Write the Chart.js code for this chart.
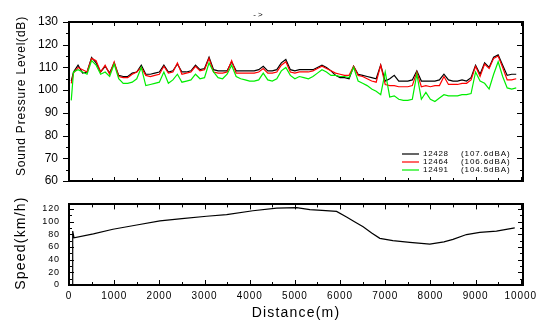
<!DOCTYPE html>
<html><head><meta charset="utf-8">
<script src="https://cdn.jsdelivr.net/npm/chart.js@4.4.1/dist/chart.umd.min.js"></script>
<style>
html,body{margin:0;padding:0;background:#fff;}
body{width:544px;height:323px;position:relative;overflow:hidden;font-family:"Liberation Sans",Arial,sans-serif;}
canvas{position:absolute;left:0;}
#c1{top:0;width:544px;height:190px;}
#c2{top:190px;width:544px;height:133px;}
.lbl{position:absolute;color:#000;white-space:nowrap;line-height:1;}
#title{left:258px;top:15px;font-size:8px;transform:translate(-50%,-50%);}
#ytop{left:21px;top:96px;font-size:12px;letter-spacing:0.8px;transform:translate(-50%,-50%) rotate(-90deg);}
#ybot{left:20px;top:243px;font-size:14px;letter-spacing:1.2px;transform:translate(-50%,-50%) rotate(-90deg);}
#xbot{left:296px;top:312px;font-size:14px;letter-spacing:1.2px;transform:translate(-50%,-50%);}
</style></head><body>
<canvas id="c1" width="544" height="190"></canvas>
<canvas id="c2" width="544" height="133"></canvas>
<div class="lbl" id="title">- &gt;</div>
<div class="lbl" id="ytop">Sound Pressure Level(dB)</div>
<div class="lbl" id="ybot">Speed(km/h)</div>
<div class="lbl" id="xbot">Distance(m)</div>
<script>
// ---------- data ----------
const seriesNames = ["12428", "12464", "12491"];
const seriesLevels = ["(107.6dBA)", "(106.6dBA)", "(104.5dBA)"];
const seriesColors = ["#000000", "#ff0000", "#00ee00"];

const noiseDist = [50,100,200,300,400,500,600,700,800,900,1000,1100,1200,1300,1400,1500,1600,1700,1800,1900,
2000,2100,2200,2300,2400,2500,2600,2700,2800,2900,3000,3100,3200,3300,3400,3500,3600,3700,3800,3900,
4000,4100,4200,4300,4400,4500,4600,4700,4800,4900,5000,5100,5200,5300,5400,5500,5600,5700,5800,5900,
6000,6100,6200,6300,6400,6500,6600,6700,6800,6900,7000,7100,7200,7300,7400,7500,7600,7700,7800,7900,
8000,8100,8200,8300,8400,8500,8600,8700,8800,8900,9000,9100,9200,9300,9400,9500,9600,9700,9800,9900];

const spl12428 = [104,108,111,107.5,108,114.4,112,108,110.5,107.5,112,106.5,106,106,107.5,108,111,107,107,107.5,
108,111,108,108.5,111.5,108,108,108.5,111,109,109.5,114.5,109,108.5,108.5,108.5,112.5,108.5,108.5,108.5,
108.5,108.5,109,110.5,108.5,108.5,109,112,113.5,109,108.5,109,109,109,109,110,111,110,108.5,106.5,
105.5,105.5,105,110.5,107,106.5,106,105.5,105,111,104,105,106.5,104,104,104,104.5,108.5,104,104,
104,104,104.5,107,104.5,104,104,104.5,104,105.5,111,107,112,110,114.5,115.5,111,106.5,107,107];

const spl12464 = [103,107.5,110,109,108,114,113,108,111,107,112.4,106,105.5,105.5,107,108,110,106.5,106,106.5,
107,110.5,107.5,108,112,107,107.5,108,110.5,108.5,109,114,108,107.5,107.5,108,113,107.5,107.5,107.5,
107.5,107.5,108,109.5,107.5,107.5,108,111,112.5,108,107.5,108,108,108,108.5,109.5,110.5,109.5,108.5,107.5,
107,106.5,106.5,110.5,106.5,106,105,104,103.5,111,102.5,102,102,101.5,101.5,101.5,102,108,101.5,102,
101.5,102,102,106,102.5,102.5,102.5,103,103,104.5,110.5,106,111.5,109.5,114,115,110,104.5,104.5,105];

const spl12491 = [95.5,108,109,108,107,113,111,107,108,106,111.5,105,103,103,103.5,105,110,102,102.5,103,
103.5,108,103,104.5,107,103.5,104,104.5,107,105,105.5,112,108,105.5,105,107,111,106,105,104.5,
104,104,104.5,107.5,104.5,104,105,108.5,110,106.5,105,106,105.5,105,106,107.5,109,108,106.5,106.5,
106,106,105.5,110,104,103,102,100.5,99.5,98,108,97,97.5,96,95.5,95.5,96,107,96,99,
96,95,96.5,98,97.5,97.5,97.5,98,98,98.5,108,104,103,100.5,107,112.5,106,101,100.5,101];

const speedDist = [80,82,110,540,973,1500,2013,2500,3046,3489,4071,4595,5038,5332,5600,5923,6144,6320,6511,6700,6881,7168,7544,7987,8300,8500,8799,9093,9462,9867];
const speedKmh  = [0,85,74.5,80.5,87.8,94.5,101,104.7,108.3,111,117,121,122,118.8,117.5,116,107,99.5,91.7,82,73.5,70,67.3,64.4,68,72,79.5,83,84.8,90];

const splTicks = [60,70,80,90,100,110,120,130];
const speedTicks = [0,20,40,60,80,100,120];
const distTicks = [0,1000,2000,3000,4000,5000,6000,7000,8000,9000,10000];

// ---------- helpers ----------
const FONT = "'Liberation Sans', Arial, sans-serif";
const toXY = (xs, ys) => xs.map((x, i) => ({x: x, y: ys[i]}));

const frameTicks = {
  id: 'frameTicks',
  beforeDraw(chart, args, opts) { chart.ctx.letterSpacing = opts.ls || '0px'; },
  afterDraw(chart, args, opts) {
    const ctx = chart.ctx, a = chart.chartArea, x = chart.scales.x, y = chart.scales.y;
    ctx.save();
    ctx.strokeStyle = '#000';
    ctx.lineWidth = 1;
    const line = (x1, y1, x2, y2) => { ctx.beginPath(); ctx.moveTo(x1, y1); ctx.lineTo(x2, y2); ctx.stroke(); };
    for (let v = 0; v <= x.max; v += opts.xStep) {
      const px = Math.round(x.getPixelForValue(v)) + 0.5;
      const L = (v % opts.xMajor === 0) ? opts.xMajorLen : opts.xMinorLen;
      line(px, a.top, px, a.top + L);
      line(px, a.bottom, px, a.bottom - L);
    }
    for (let v = y.min; v <= y.max + 0.001; v += opts.yStep) {
      const py = Math.round(y.getPixelForValue(v)) + 0.5;
      const L = (v % opts.yMajor === 0) ? opts.yMajorLen : opts.yMinorLen;
      if (opts.leftOut) line(a.left - L, py, a.left, py); else line(a.left, py, a.left + L, py);
      line(a.right, py, a.right - L, py);
    }
    ctx.lineWidth = 2;
    ctx.strokeRect(Math.round(a.left), Math.round(a.top), Math.round(a.right - a.left), Math.round(a.bottom - a.top));
    ctx.restore();
  }
};

const legendBox = {
  id: 'legendBox',
  afterDraw(chart) {
    const ctx = chart.ctx;
    ctx.save();
    ctx.font = "8px " + FONT;
    ctx.textBaseline = 'middle';
    ctx.fillStyle = '#000';
    seriesNames.forEach((n, i) => {
      const yy = 154 + i * 8;
      ctx.strokeStyle = seriesColors[i];
      ctx.lineWidth = 1.2;
      ctx.beginPath(); ctx.moveTo(402, yy); ctx.lineTo(419, yy); ctx.stroke();
      ctx.letterSpacing = '0.7px';
      ctx.fillText(n, 423, yy);
      ctx.letterSpacing = '0.9px';
      ctx.fillText(seriesLevels[i], 461, yy);
    });
    ctx.restore();
  }
};

// ---------- top chart ----------
new Chart(document.getElementById('c1'), {
  type: 'line',
  data: {
    datasets: [spl12428, spl12464, spl12491].map((s, i) => ({
      label: seriesNames[i],
      data: toXY(noiseDist, s),
      borderColor: seriesColors[i],
      borderWidth: 1.2,
      pointRadius: 0,
      tension: 0,
      fill: false,
      order: 3 - i
    }))
  },
  options: {
    responsive: false, animation: false, devicePixelRatio: 1,
    layout: { padding: { top: 22, right: 21, left: 0, bottom: 9 } },
    plugins: {
      legend: { display: false }, tooltip: { enabled: false },
      frameTicks: { ls: '0px', xStep: 500, xMajor: 1000, xMajorLen: 4, xMinorLen: 3,
                    yStep: 5, yMajor: 10, yMajorLen: 6, yMinorLen: 3, leftOut: true }
    },
    scales: {
      x: { type: 'linear', display: false, min: 0, max: 10050 },
      y: { type: 'linear', min: 60, max: 130,
           afterBuildTicks: s => { s.ticks = splTicks.map(v => ({ value: v })); },
           ticks: { font: { family: FONT, size: 12 }, color: '#000', padding: 11, autoSkip: false },
           grid: { display: false, drawTicks: false }, border: { display: false },
           afterFit: s => { s.width = 69; s.paddingTop = 0; s.paddingBottom = 0; } }
    }
  },
  plugins: [frameTicks, legendBox]
});

// ---------- bottom chart ----------
new Chart(document.getElementById('c2'), {
  type: 'line',
  data: {
    datasets: [{
      label: 'Speed',
      data: toXY(speedDist, speedKmh),
      borderColor: '#000', borderWidth: 1.2, pointRadius: 0, tension: 0, fill: false
    }]
  },
  options: {
    responsive: false, animation: false, devicePixelRatio: 1,
    layout: { padding: { top: 8, right: 21, left: 0, bottom: 0 } },
    plugins: {
      legend: { display: false }, tooltip: { enabled: false },
      frameTicks: { ls: '0.9px', xStep: 500, xMajor: 1000, xMajorLen: 5, xMinorLen: 3,
                    yStep: 10, yMajor: 20, yMajorLen: 5, yMinorLen: 3, leftOut: false }
    },
    scales: {
      x: { type: 'linear', min: 0, max: 10050,
           afterBuildTicks: s => { s.ticks = distTicks.map(v => ({ value: v })); },
           ticks: { font: { family: FONT, size: 10 }, color: '#000', padding: 5, maxRotation: 0, autoSkip: false,
                    callback: v => String(v) },
           grid: { display: false, drawTicks: false }, border: { display: false },
           afterFit: s => { s.height = 38; } },
      y: { type: 'linear', min: 0, max: 127,
           afterBuildTicks: s => { s.ticks = speedTicks.map(v => ({ value: v })); },
           ticks: { font: { family: FONT, size: 9 }, color: '#000', padding: 9, autoSkip: false,
                    callback: v => String(v) },
           grid: { display: false, drawTicks: false }, border: { display: false },
           afterFit: s => { s.width = 69; } }
    }
  },
  plugins: [frameTicks]
});
</script>
</body></html>
